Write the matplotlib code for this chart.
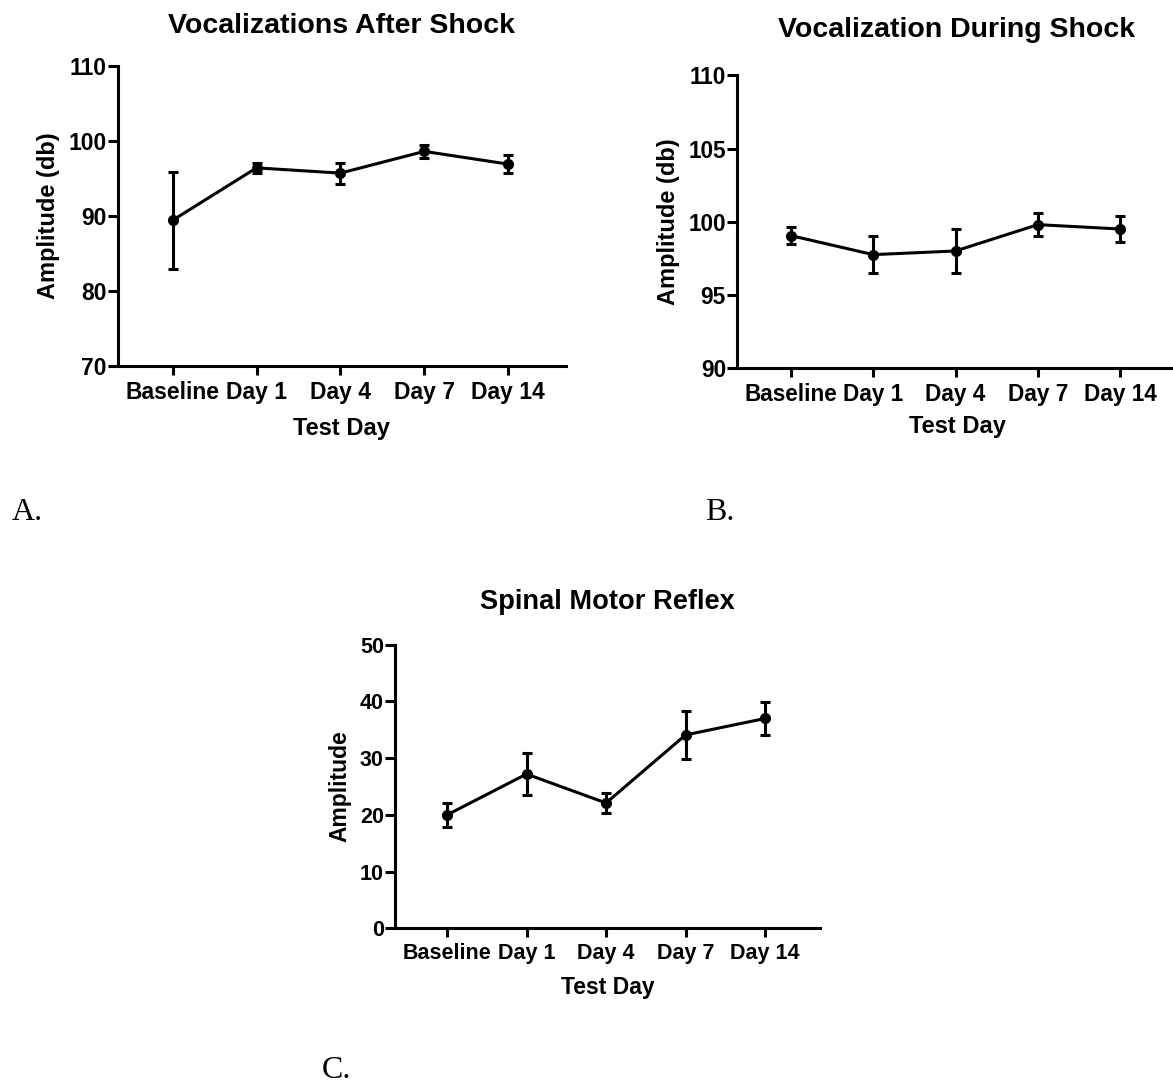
import matplotlib
matplotlib.use("Agg")
import matplotlib.pyplot as plt

days = ["Baseline", "Day 1", "Day 4", "Day 7", "Day 14"]

after_mean = [89.4, 96.4, 95.7, 98.6, 96.9]
after_err = [6.5, 0.7, 1.4, 0.9, 1.2]

during_mean = [99.05, 97.75, 98.0, 99.8, 99.5]
during_err = [0.6, 1.25, 1.5, 0.8, 0.9]

reflex_mean = [20.0, 27.2, 22.1, 34.1, 37.0]
reflex_err = [2.15, 3.7, 1.8, 4.2, 2.85]

plt.rcParams['font.family'] = ['Liberation Sans', 'DejaVu Sans']
plt.rcParams['font.weight'] = 'bold'

fig = plt.figure(figsize=(11.73, 10.86), dpi=100)

def panel(rect, mean, err, ylim, yticks, title, ylabel,
          tfs, tickfs, lfs, tpad, xpad, xlpad):
    ax = fig.add_axes(rect)
    x = list(range(len(days)))
    ax.errorbar(x, mean, yerr=err, color='black', lw=2.2, marker='o',
                markersize=7, capsize=3.3, capthick=2.2, elinewidth=2.2)
    ax.set_xlim(-0.655, 4.69)
    ax.set_ylim(*ylim)
    ax.set_yticks(yticks)
    ax.set_xticks(x)
    ax.set_xticklabels(days)
    for s in ['top', 'right']:
        ax.spines[s].set_visible(False)
    for s in ['left', 'bottom']:
        ax.spines[s].set_linewidth(2.2)
    ax.tick_params(axis='both', width=2.2, labelsize=tickfs)
    ax.tick_params(axis='y', length=7, pad=1)
    ax.tick_params(axis='x', length=6.5, pad=xpad)
    for lab in ax.get_xticklabels() + ax.get_yticklabels():
        lab.set_fontweight('bold')
    ax.set_title(title, fontsize=tfs, fontweight='bold', pad=tpad)
    ax.set_xlabel("Test Day", fontsize=lfs, fontweight='bold', labelpad=xlpad)
    ax.set_ylabel(ylabel, fontsize=lfs, fontweight='bold', labelpad=6)
    return ax

panel([0.1003, 0.6634, 0.3823, 0.2758], after_mean, after_err, (70, 110),
      [70, 80, 90, 100, 110], "Vocalizations After Shock", "Amplitude (db)",
      20.5, 16.5, 17, 24, 4.5, 9.5)
panel([0.6283, 0.6611, 0.3751, 0.2695], during_mean, during_err, (90, 110),
      [90, 95, 100, 105, 110], "Vocalization During Shock", "Amplitude (db)",
      20.5, 16.3, 17, 27.5, 4, 7)
panel([0.3367, 0.1452, 0.3623, 0.2611], reflex_mean, reflex_err, (0, 50),
      [0, 10, 20, 30, 40, 50], "Spinal Motor Reflex", "Amplitude",
      19.6, 15.5, 16.5, 25.5, 4, 8.5)

for txt, xp, yp in [("A.", 12, 512), ("B.", 705, 512), ("C.", 322, 1070)]:
    fig.text(xp / 1173, 1 - yp / 1086, txt, family='Liberation Serif',
             fontweight='normal', fontsize=23, ha='left', va='center')

fig.savefig("out.png", dpi=100)
